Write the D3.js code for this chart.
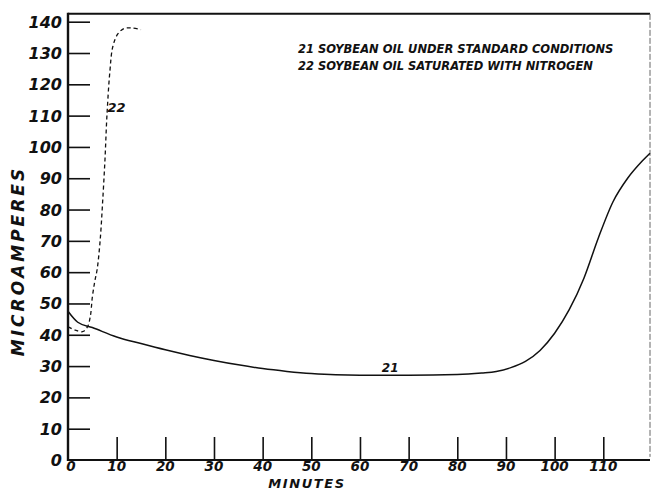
<!DOCTYPE html>
<html><head><meta charset="utf-8">
<script src="https://cdn.jsdelivr.net/npm/d3@7"></script>
<style>
body{margin:0;background:#fff;}
svg{display:block;}
text{font-family:"DejaVu Sans",sans-serif;font-weight:bold;font-style:italic;fill:#111;}
</style></head>
<body>
<script>
// ---- data ----
const xTicks = [10,20,30,40,50,60,70,80,90,100,110];
const yTicks = [0,10,20,30,40,50,60,70,80,90,100,110,120,130,140];
const series21Time = [0,2,5,10,15,20,25,30,35,40,45,50,55,60,70,80,85,88,91,94,97,100,103,106,109,112,115,118,119.6];
const series21Val  = [47.5,44,42.3,39.3,37.2,35.2,33.4,31.8,30.4,29.2,28.3,27.6,27.2,27.1,27.1,27.3,27.8,28.3,29.5,31.5,35,40.5,48,58,71,82.5,90,95.5,98];
const series22Time = [0,1.5,3,4,4.6,5,5.5,6,6.6,7.1,7.6,8,8.6,9.2,10.2,11.5,13,15];
const series22Val  = [42.5,41.5,41,42.5,46,52,57,61,70,82,96,110,124,132,136,137.8,138,137.5];
const legendLines = ["21 SOYBEAN OIL UNDER STANDARD CONDITIONS","22 SOYBEAN OIL SATURATED WITH NITROGEN"];
const xTitle = "MINUTES";
const yTitle = "MICROAMPERES";

const W = 652, H = 491;
const svg = d3.select("body").append("svg").attr("width",W).attr("height",H);

const x = d3.scaleLinear().domain([0,119.6]).range([68,650]);
const y = d3.scaleLinear().domain([0,140]).range([460,21.7]);

// frame
svg.append("line").attr("x1",x(0)).attr("x2",x(119.6)).attr("y1",y(142.5)).attr("y2",y(142.5)).attr("stroke","#111").attr("stroke-width",2);
svg.append("line").attr("x1",x(119.6)).attr("x2",x(119.6)).attr("y1",y(142.5)).attr("y2",y(1)).attr("stroke","#666").attr("stroke-width",1).attr("stroke-dasharray","6,2");

// y axis
const yAxis = d3.axisRight(y).tickValues(yTicks.filter(d=>d>0)).tickSize(22).tickFormat("");
const gy = svg.append("g").attr("transform",`translate(${x(0)},0)`).call(yAxis);
gy.select(".domain").remove();
gy.selectAll(".tick line").attr("stroke","#111").attr("stroke-width",1.6);
svg.append("line").attr("x1",x(0)).attr("x2",x(0)).attr("y1",y(142.5)-1).attr("y2",y(0)+1).attr("stroke","#111").attr("stroke-width",2.4);
svg.selectAll(".ylab").data(yTicks).enter().append("text")
  .attr("x",62).attr("y",d=>y(d)+6).attr("text-anchor","end")
  .attr("font-size",16).text(d=>d);

// x axis
const xAxis = d3.axisTop(x).tickValues(xTicks).tickSize(23).tickFormat("");
const gx = svg.append("g").attr("transform",`translate(0,${y(0)})`).call(xAxis);
gx.select(".domain").remove();
gx.selectAll(".tick line").attr("stroke","#111").attr("stroke-width",1.6);
svg.append("line").attr("x1",x(0)-1).attr("x2",x(119.6)).attr("y1",y(0)).attr("y2",y(0)).attr("stroke","#111").attr("stroke-width",2.2);
svg.selectAll(".xlab").data([0].concat(xTicks)).enter().append("text")
  .attr("x",d=>x(d)+(d===0?3:0)).attr("y",471).attr("text-anchor","middle")
  .attr("font-size",13.5).text(d=>d);

// titles
svg.append("text").attr("x",307).attr("y",488).attr("text-anchor","middle")
  .attr("font-size",13).attr("letter-spacing",1.6).text(xTitle);
svg.append("text").attr("transform","translate(24,261) rotate(-90)").attr("text-anchor","middle")
  .attr("font-size",17).attr("letter-spacing",3).text(yTitle);

// curves
const d21 = series21Time.map((t,i)=>[t,series21Val[i]]);
const d22 = series22Time.map((t,i)=>[t,series22Val[i]]);
const line21 = d3.line().x(d=>x(d[0])).y(d=>y(d[1])).curve(d3.curveMonotoneX);
const line22 = d3.line().x(d=>x(d[0])).y(d=>y(d[1])).curve(d3.curveCatmullRom.alpha(0.5));
svg.append("path").attr("d",line21(d21)).attr("fill","none").attr("stroke","#111").attr("stroke-width",1.5);
svg.append("path").attr("d",line22(d22)).attr("fill","none").attr("stroke","#111").attr("stroke-width",1.3).attr("stroke-dasharray","4,3");

// curve labels
svg.append("text").attr("x",x(8.1)).attr("y",y(111)).attr("font-size",13).text("22");
svg.append("text").attr("x",x(64.5)).attr("y",y(28.2)).attr("font-size",12).text("21");

// legend
legendLines.forEach((s,i)=>{
  svg.append("text").attr("x",298).attr("y",53+i*17).attr("font-size",11.5).text(s);
});
</script>
</body></html>
